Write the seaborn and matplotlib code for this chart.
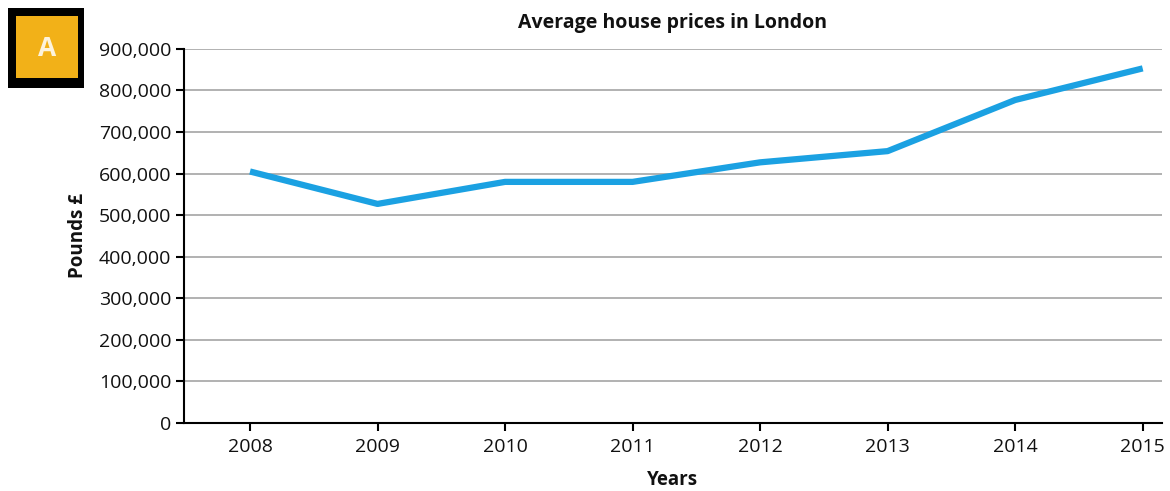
import matplotlib
matplotlib.use("Agg")
import matplotlib.pyplot as plt
import seaborn as sns
import pandas as pd
from matplotlib.patches import Rectangle
from matplotlib.ticker import FuncFormatter

years = ["2008", "2009", "2010", "2011", "2012", "2013", "2014", "2015"]
prices = [605000, 527000, 580000, 580000, 627000, 654000, 777000, 853000]
y_ticks = [0, 100000, 200000, 300000, 400000, 500000, 600000, 700000, 800000, 900000]

sns.set_theme(style="white")
plt.rcParams['font.family'] = ['Open Sans', 'DejaVu Sans']

df = pd.DataFrame({"Year": years, "Price": prices})

fig = plt.figure(figsize=(11.7, 4.91), dpi=100)
ax = fig.add_axes([0.157, 0.1385, 0.836, 0.762])

sns.lineplot(data=df, x="Year", y="Price", ax=ax, color="#1ba1e2", linewidth=4.5,
             sort=False, solid_joinstyle="round", solid_capstyle="butt")

ax.set_ylim(0, 900000)
ax.set_xlim(-0.52, 7.15)
ax.set_yticks(y_ticks)
ax.yaxis.set_major_formatter(FuncFormatter(lambda v, p: f"{int(v):,}"))
ax.grid(axis="y", color="#ababab", linewidth=1.3)
ax.set_axisbelow(True)
for s in ["top", "right"]:
    ax.spines[s].set_visible(False)
for s in ["left", "bottom"]:
    ax.spines[s].set_color("black")
    ax.spines[s].set_linewidth(1.5)
ax.tick_params(axis="both", which="major", direction="out", length=6, width=1.5,
               color="black", labelsize=14, labelcolor="#111111", bottom=True, left=True)
ax.tick_params(axis="x", pad=5)
ax.tick_params(axis="y", pad=3)
ax.set_xlabel("Years", fontsize=13.5, fontweight="bold", labelpad=10, color="#111111")
ax.set_ylabel("Pounds £", fontsize=13.5, fontweight="bold", labelpad=8, color="#111111")
ax.set_title("Average house prices in London", fontsize=14, fontweight="bold", pad=15,
             color="#111111")

# badge
fig.patches.append(Rectangle((8/1170, 1-88/491), 76/1170, 80/491, transform=fig.transFigure,
                             facecolor="black", edgecolor="none"))
fig.patches.append(Rectangle((16/1170, 1-78/491), 62/1170, 62/491, transform=fig.transFigure,
                             facecolor="#f2b118", edgecolor="none"))
fig.text(47/1170, 1-48/491, "A", color="#fdf3dc", fontsize=19, fontweight="bold",
         ha="center", va="center")

fig.savefig("out.png", dpi=100)
